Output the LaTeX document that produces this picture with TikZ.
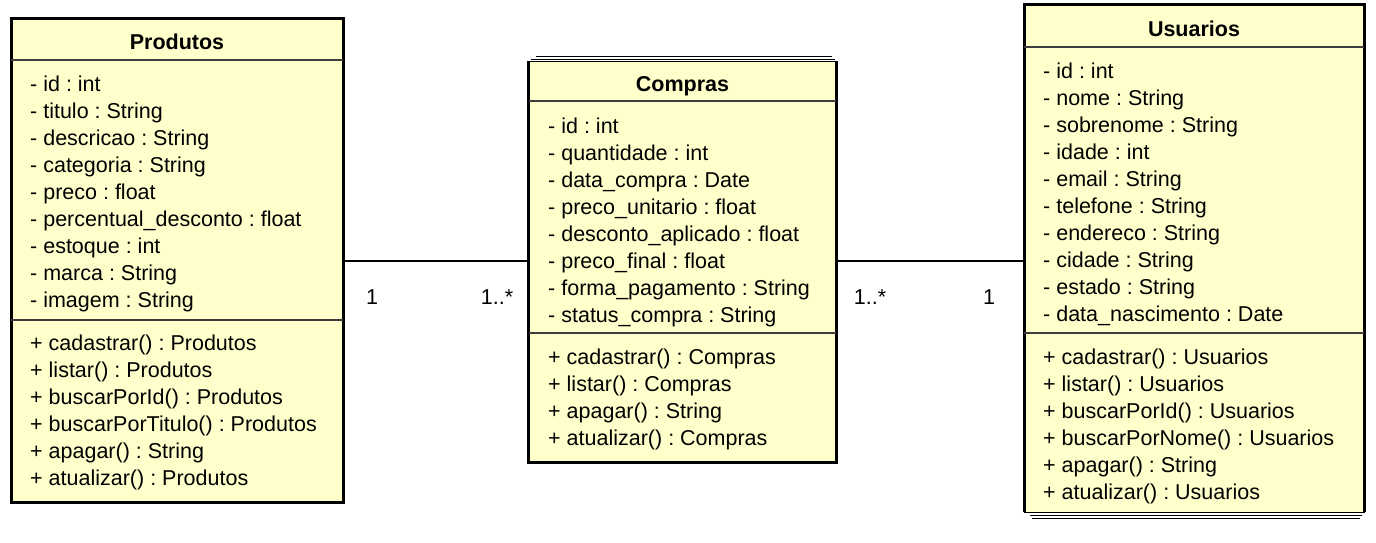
\documentclass[tikz,border=0pt]{standalone}
\usepackage{fontspec}
\setmainfont{Liberation Sans}
\frenchspacing
\definecolor{classfill}{RGB}{255,255,204}
\definecolor{divider}{RGB}{60,60,60}
\tikzset{
  classbox/.style={draw=black, line width=3pt, fill=classfill, inner sep=0pt},
  classfillonly/.style={fill=classfill, inner sep=0pt},
  thickedge/.style={draw=black, line width=3pt, line join=miter},
  div/.style={draw=divider, line width=1.4pt},
  title/.style={font=\fontsize{21.5}{24}\selectfont\bfseries, anchor=base, inner sep=0pt},
  item/.style={font=\fontsize{21.5}{24}\selectfont, anchor=base west, inner sep=0pt},
  conn/.style={draw=black, line width=1.4pt},
  mult/.style={font=\fontsize{21.5}{24}\selectfont, anchor=base, inner sep=0pt},
  extra/.style={draw=black, line width=1pt}
}
\begin{document}
\begin{tikzpicture}[x=1pt,y=-1pt]
\useasboundingbox (0,0) rectangle (1376,542);
% ---------- Produtos ----------
\node[classbox, minimum width=332pt, minimum height=484pt] (prod) at (177,260) {};
\draw[div] (11,60) -- (343,60);
\draw[div] (11,320) -- (343,320);
\node[title] (prodT) at (177,49) {Produtos};
\foreach \t [count=\i from 0] in {- id : int, - titulo : String, - descricao : String, - categoria : String, - preco : float, - percentual\_desconto : float, - estoque : int, - marca : String, - imagem : String}
  \node[item] (pa\i) at (30,91+27.1*\i) {\t};
\foreach \t [count=\i from 0] in {+ cadastrar() : Produtos, + listar() : Produtos, + buscarPorId() : Produtos, + buscarPorTitulo() : Produtos, + apagar() : String, + atualizar() : Produtos}
  \node[item] (pm\i) at (30,350+27.1*\i) {\t};
% ---------- Compras ----------
\node[classfillonly, minimum width=307pt, minimum height=401pt] (comp) at (682.5,261.5) {};
\draw[thickedge] (comp.north west) -- (comp.south west) -- (comp.south east) -- (comp.north east);
\draw[extra] (536,56.3) -- (832,56.3);
\draw[extra] (531,59) -- (835,59);
\draw[extra] (529,61.7) -- (836,61.7);
\draw[div] (529,101) -- (836,101);
\draw[div] (529,333) -- (836,333);
\node[title] (compT) at (682.5,91) {Compras};
\foreach \t [count=\i from 0] in {- id : int, - quantidade : int, - data\_compra : Date, - preco\_unitario : float, - desconto\_aplicado : float, - preco\_final : float, - forma\_pagamento : String, - status\_compra : String}
  \node[item] (ca\i) at (548,133+27.1*\i) {\t};
\foreach \t [count=\i from 0] in {+ cadastrar() : Compras, + listar() : Compras, + apagar() : String, + atualizar() : Compras}
  \node[item] (cm\i) at (548,364+27.1*\i) {\t};
% ---------- Usuarios ----------
\node[classfillonly, minimum width=340pt, minimum height=507pt] (usu) at (1194.5,258.5) {};
\draw[thickedge] (usu.south west) -- (usu.north west) -- (usu.north east) -- (usu.south east);
\draw[extra] (1024,512.3) -- (1365,512.3);
\draw[extra] (1030,515.2) -- (1362,515.2);
\draw[extra] (1032,518.2) -- (1360,518.2);
\draw[div] (1024,47) -- (1364,47);
\draw[div] (1024,333) -- (1364,333);
\node[title] (usuT) at (1194,36) {Usuarios};
\foreach \t [count=\i from 0] in {- id : int, - nome : String, - sobrenome : String, - idade : int, - email : String, - telefone : String, - endereco : String, - cidade : String, - estado : String, - data\_nascimento : Date}
  \node[item] (ua\i) at (1043,78+27.1*\i) {\t};
\foreach \t [count=\i from 0] in {+ cadastrar() : Usuarios, + listar() : Usuarios, + buscarPorId() : Usuarios, + buscarPorNome() : Usuarios, + apagar() : String, + atualizar() : Usuarios}
  \node[item] (um\i) at (1043,364+27.1*\i) {\t};
% ---------- connectors ----------
\coordinate (pr) at (prod.east |- 0,261);
\coordinate (cl) at (comp.west |- 0,261);
\coordinate (cr) at (comp.east |- 0,261);
\coordinate (ul) at (usu.west |- 0,261);
\draw[conn] (pr) -- (cl);
\draw[conn] (cr) -- (ul);
\node[mult] (m1) at (372,304) {1};
\node[mult] (m2) at (497,304) {1..*};
\node[mult] (m3) at (870,304) {1..*};
\node[mult] (m4) at (989,304) {1};
\end{tikzpicture}
\end{document}
